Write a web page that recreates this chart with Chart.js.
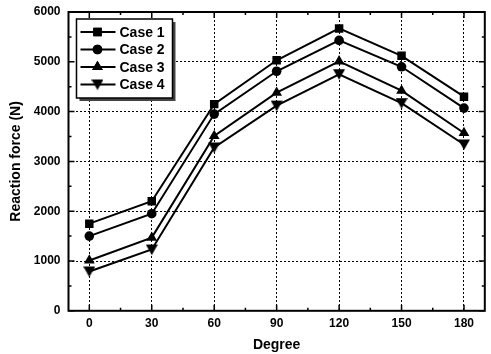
<!DOCTYPE html>
<html><head><meta charset="utf-8">
<script src="https://cdn.jsdelivr.net/npm/chart.js@4/dist/chart.umd.min.js"></script>
<style>html,body{margin:0;padding:0;background:#fff}#wrap{width:491px;height:354px}</style>
</head><body><div id="wrap"><canvas id="c" width="491" height="354"></canvas></div>
<script>
const degrees = [0, 30, 60, 90, 120, 150, 180];
const case1 = [1750, 2200, 4150, 5030, 5670, 5120, 4300];
const case2 = [1500, 1950, 3950, 4810, 5430, 4900, 4070];
const case3 = [1010, 1470, 3510, 4380, 5010, 4420, 3570];
const case4 = [790, 1230, 3280, 4120, 4750, 4170, 3340];
const seriesNames = ['Case 1', 'Case 2', 'Case 3', 'Case 4'];
const markers = ['rect', 'circle', 'triangle', 'triangleDown'];
const xTicks = [0, 30, 60, 90, 120, 150, 180];
const yTicks = [0, 1000, 2000, 3000, 4000, 5000, 6000];

function makeDownTri(size){
  const c = document.createElement('canvas'); c.width = size; c.height = size;
  const g = c.getContext('2d'); g.fillStyle = '#000';
  g.beginPath(); g.moveTo(0,1); g.lineTo(size,1); g.lineTo(size/2,size-0.5); g.closePath(); g.fill();
  return c;
}
const downTri = makeDownTri(12);
const styles = markers.map(m => m === 'triangleDown' ? downTri : m);
const radii = [6, 4.8, 6.2, 6];

const FONT = '"Liberation Sans", Arial, sans-serif';
const allVals = [case1, case2, case3, case4];
const datasets = allVals.map((vals, i) => ({
  label: seriesNames[i],
  data: degrees.map((d, j) => ({x: d, y: vals[j]})),
  borderColor: '#000', backgroundColor: '#000', borderWidth: 2,
  pointStyle: styles[i], pointRadius: radii[i], pointBorderWidth: 0,
  pointBackgroundColor: '#000', tension: 0
}));

const framePlugin = {
  id: 'frame',
  afterDatasetsDraw(chart){
    const {ctx, chartArea: a, scales} = chart;
    const xs = scales.x, ys = scales.y;
    ctx.save();
    ctx.strokeStyle = '#000'; ctx.lineWidth = 2;
    ctx.strokeRect(a.left, a.top, a.right - a.left, a.bottom - a.top);
    ctx.lineWidth = 1.5;
    for (let v = 0; v <= 180; v += 15){
      const px = xs.getPixelForValue(v); const L = (v % 30 === 0) ? 6 : 3;
      ctx.beginPath(); ctx.moveTo(px, a.bottom); ctx.lineTo(px, a.bottom - L);
      ctx.moveTo(px, a.top); ctx.lineTo(px, a.top + L); ctx.stroke();
    }
    for (let v = 0; v <= 6000; v += 500){
      const py = ys.getPixelForValue(v); const L = (v % 1000 === 0) ? 6 : 3;
      ctx.beginPath(); ctx.moveTo(a.left, py); ctx.lineTo(a.left + L, py);
      ctx.moveTo(a.right, py); ctx.lineTo(a.right - L, py); ctx.stroke();
    }
    // legend box
    const bx = a.left + 8, by = a.top + 7, bw = 96, bh = 79;
    ctx.fillStyle = '#444'; ctx.fillRect(bx + 3, by + 3, bw, bh);
    ctx.fillStyle = '#fff'; ctx.fillRect(bx, by, bw, bh);
    ctx.lineWidth = 1.5; ctx.strokeStyle = '#000'; ctx.strokeRect(bx, by, bw, bh);
    ctx.font = 'bold 14px ' + FONT;
    ctx.textBaseline = 'middle'; ctx.fillStyle = '#000';
    chart.data.datasets.forEach((ds, i) => {
      const cy = by + 13 + i * 17.5;
      ctx.lineWidth = 2; ctx.beginPath(); ctx.moveTo(bx + 4, cy); ctx.lineTo(bx + 39, cy); ctx.stroke();
      Chart.helpers.drawPoint(ctx, {pointStyle: ds.pointStyle, radius: ds.pointRadius, borderWidth: 0, rotation: 0}, bx + 21, cy);
      ctx.fill();
      ctx.fillText(ds.label, bx + 43, cy + 1);
    });
    ctx.restore();
  }
};

new Chart(document.getElementById('c'), {
  type: 'line',
  data: { datasets },
  options: {
    responsive: false, animation: false,
    layout: { padding: { top: 0, right: 2, left: 8, bottom: 0 } },
    plugins: { legend: { display: false }, tooltip: { enabled: false } },
    scales: {
      x: {
        type: 'linear', min: -10, max: 190,
        afterBuildTicks(s){ s.ticks = xTicks.map(v => ({value: v})); },
        grid: { color: '#000', lineWidth: 1, drawTicks: false },
        border: { display: false, dash: [2, 2] },
        ticks: { color: '#000', padding: 6, callback: v => String(v), font: { family: FONT, size: 12, weight: 'bold' } },
        title: { display: true, text: 'Degree', color: '#000', padding: { top: 0, bottom: 0 }, font: { family: FONT, size: 14, weight: 'bold' } }
      },
      y: {
        min: 0, max: 6000,
        afterBuildTicks(s){ s.ticks = yTicks.map(v => ({value: v})); },
        afterFit(s){ s.paddingTop = 12; },
        grid: { color: '#000', lineWidth: 1, drawTicks: false },
        border: { display: false, dash: [2, 2] },
        ticks: { color: '#000', padding: 8, callback: v => String(v), font: { family: FONT, size: 12, weight: 'bold' } },
        title: { display: true, text: 'Reaction force (N)', color: '#000', padding: { top: 0, bottom: 1 }, font: { family: FONT, size: 14, weight: 'bold' } }
      }
    }
  },
  plugins: [framePlugin]
});
</script></body></html>
